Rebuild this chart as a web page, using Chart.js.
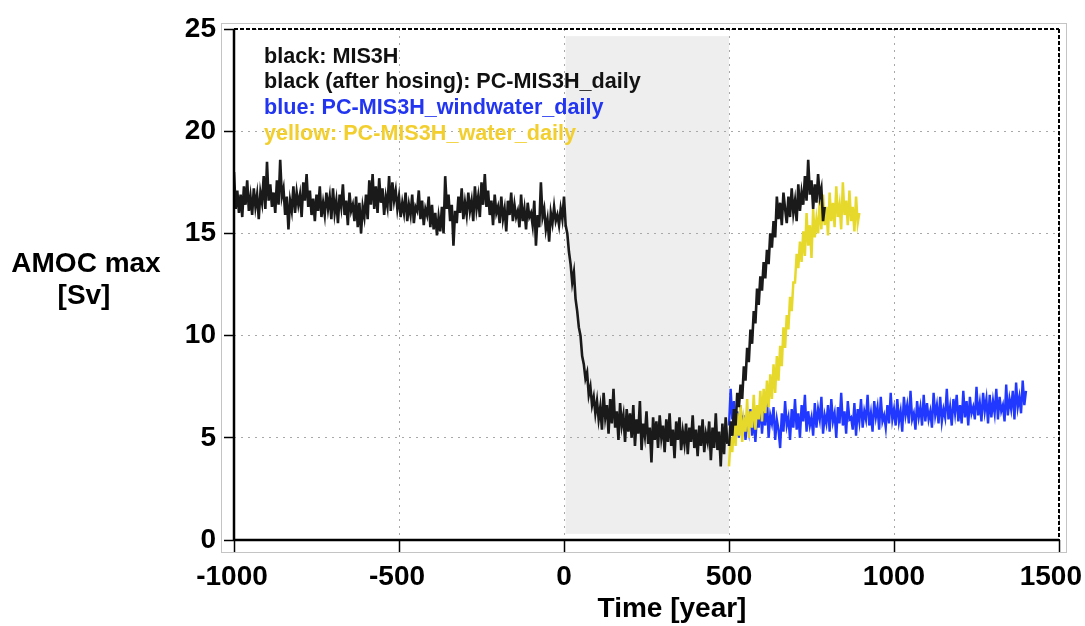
<!DOCTYPE html>
<html>
<head>
<meta charset="utf-8">
<script src="https://cdn.jsdelivr.net/npm/chart.js@4/dist/chart.umd.min.js"></script>
<style>
html,body{margin:0;padding:0;background:#fff;}
#wrap{width:1085px;height:626px;position:relative;}
</style>
</head>
<body>
<div id="wrap"><canvas id="c" width="1085" height="626"></canvas></div>
<script>
// ---- data (5-year sampling) ----
const STEP = 5;
const mis3hStart = -1000;
const mis3h = [
18.0,16.2,17.1,16.0,16.9,15.8,17.3,16.4,17.6,16.1,16.8,15.9,17.2,16.3,16.9,15.7,17.0,16.5,17.8,16.2,
18.5,16.6,17.4,16.3,17.0,16.0,17.6,16.4,18.6,16.8,17.2,15.9,16.8,15.2,16.6,16.1,17.3,16.0,17.0,16.4,
16.9,15.8,17.5,16.6,17.9,16.3,17.1,15.9,16.7,15.6,16.9,16.1,17.3,15.8,16.5,15.9,17.0,16.2,16.8,15.7,
17.2,16.0,16.6,15.5,16.9,16.3,17.4,15.9,16.6,15.4,17.0,16.1,16.4,15.6,16.8,15.3,16.5,15.0,16.3,15.8,
16.9,15.7,17.6,16.4,17.9,16.2,17.3,16.0,17.7,16.5,17.2,15.9,16.8,16.3,17.8,16.1,17.5,16.6,17.1,16.2,
16.8,15.8,16.5,16.0,17.0,15.6,16.4,15.9,16.9,15.5,16.3,16.1,17.1,15.7,16.6,15.4,16.2,15.9,16.8,15.3,
16.4,15.2,16.0,14.9,15.8,15.1,16.3,15.0,17.8,16.2,16.9,15.6,16.4,14.4,16.1,15.5,16.8,16.0,17.2,15.7,
16.5,15.9,17.0,16.1,16.6,15.6,17.3,16.2,16.8,15.8,17.5,16.4,17.9,16.3,17.1,15.9,16.6,15.4,16.9,16.0,
16.3,15.5,16.8,15.7,16.2,15.1,16.6,15.9,17.0,15.6,16.4,15.8,16.1,15.3,16.9,15.6,16.2,15.2,16.5,15.8,
16.0,15.4,16.6,14.4,15.9,15.3,17.5,15.8,16.2,15.2,15.7,14.6,16.0,15.5,16.3,15.6,15.9,15.4,16.2,15.7,
16.8,15.4,15.0,14.1,13.5,12.6,13.1,11.8,11.2,10.4,10.0,9.0,8.6,7.9,8.2,7.1,7.5,6.6,7.0,6.2,
6.8,5.9,6.5,5.4,7.2,6.0,6.6,5.2,6.9,5.7,7.4,5.5,6.3,4.9,6.7,5.6,6.1,4.8,6.4,5.3,
6.2,5.0,6.6,4.6,5.9,5.2,6.8,4.4,5.7,5.1,6.3,4.7,5.5,3.8,6.0,4.9,5.8,4.5,6.1,5.0,
5.6,4.3,5.9,4.8,6.2,4.6,5.4,4.0,5.8,4.9,6.0,4.4,5.3,4.7,5.7,4.2,5.5,4.8,6.1,4.5,
5.4,4.1,5.6,4.6,5.9,4.3,5.2,4.8,5.8,3.9,5.5,4.5,6.2,4.4,5.3,3.6,5.7,4.2,6.0,4.7
];
const pcDailyStart = 500;
const pcDaily = [
4.6,5.8,5.1,6.4,5.6,7.2,6.5,7.6,6.9,8.5,7.8,9.4,8.7,10.3,9.6,11.2,10.6,12.3,11.5,12.9,
12.2,13.6,12.8,14.2,13.5,15.0,14.3,15.6,14.8,16.8,15.7,16.5,15.4,17.0,16.2,15.5,16.8,15.8,17.2,16.0,
16.6,15.6,17.4,16.1,17.0,16.4,17.8,16.6,18.6,16.9,17.6,16.2,17.4,16.5,17.9,16.8,17.2,15.6,16.3
];
const windwaterStart = 500;
const windwater = [
5.6,7.4,5.9,6.8,5.2,6.3,5.0,6.6,5.4,6.1,4.9,5.8,5.3,6.4,5.1,6.0,4.8,6.2,5.5,6.7,
5.2,6.3,5.6,7.0,5.0,6.1,5.7,6.5,4.9,5.9,5.4,4.5,6.2,5.3,6.8,5.6,6.0,4.9,6.4,5.5,
6.9,5.4,6.2,5.0,6.6,5.8,7.1,5.3,6.3,5.6,6.0,5.1,6.7,5.5,6.4,5.9,7.0,5.2,6.1,5.7,
6.6,5.3,6.9,5.8,6.2,5.0,6.5,5.7,7.2,5.6,6.3,5.2,6.8,5.9,6.0,5.4,6.7,5.1,6.4,5.8,
6.9,5.5,6.3,5.9,7.1,5.6,6.2,5.3,6.8,6.0,6.5,5.4,7.0,5.8,6.1,5.5,6.6,5.7,7.2,5.9,
6.4,5.6,6.9,5.8,6.3,5.3,7.0,6.1,6.6,5.7,7.3,5.9,6.2,5.4,6.8,6.0,6.5,5.6,7.1,5.8,
6.7,5.9,6.3,5.5,7.2,6.1,6.6,5.7,7.0,5.8,6.4,6.0,7.4,5.9,6.5,5.6,6.9,6.2,7.1,5.8,
6.6,5.7,7.3,6.0,6.8,5.6,7.0,6.2,6.5,5.9,7.5,6.1,6.7,5.8,7.2,6.3,6.9,5.7,7.1,6.0,
6.8,6.2,7.4,5.9,7.0,6.3,6.6,5.8,7.6,6.1,6.9,6.4,7.3,5.9,7.7,6.5,7.0,6.2,7.8,6.6,
7.3
];
const waterStart = 500;
const water = [
3.6,5.0,4.3,5.8,4.6,6.2,5.1,6.6,4.8,5.9,5.3,6.9,5.0,6.3,5.5,7.1,5.4,6.6,5.9,7.3,
5.8,7.4,6.2,7.8,6.5,8.1,6.9,8.6,7.2,9.0,7.8,9.5,8.5,10.4,9.4,11.0,10.3,11.9,11.2,12.6,
12.6,14.0,13.3,14.6,13.6,15.1,13.9,16.0,14.4,15.4,13.8,16.2,14.8,15.7,15.0,16.6,15.2,16.9,15.4,16.3,
14.9,17.0,15.6,16.5,15.3,17.3,15.8,16.4,15.2,17.5,15.9,16.6,15.4,17.1,15.6,16.3,15.1,16.8,15.5,16.0
];
const xTicks = [-1000, -500, 0, 500, 1000, 1500];
const yTicks = [0, 5, 10, 15, 20, 25];
const hosingPeriod = [5, 500];
const legendLines = [
  "black: MIS3H",
  "black (after hosing): PC-MIS3H_daily",
  "blue: PC-MIS3H_windwater_daily",
  "yellow: PC-MIS3H_water_daily"
];
const yTitle = ["AMOC max", "[Sv]"];
const xTitle = "Time [year]";

// ---- build points ----
function pts(start, arr){ return arr.map((v,i)=>({x:start+i*STEP, y:v})); }

const FONT = "'Liberation Sans', Arial, Helvetica, sans-serif";
const BLACK = '#1a1a1a', BLUE = '#2038ff', YELLOW = '#e6d92c';
const legendColors = ['#111111', '#111111', '#2236f2', '#f2cf2e'];

const decor = {
  id: 'decor',
  beforeDraw(chart){
    const {ctx, chartArea:a, scales:{x,y}} = chart;
    ctx.save();
    ctx.strokeStyle = '#c4c4c4';
    ctx.lineWidth = 1;
    ctx.strokeRect(a.left-12.5, a.top-5.5, (a.right-a.left)+20, (a.bottom-a.top)+18);
    ctx.fillStyle = '#eeeeee';
    const x0 = x.getPixelForValue(hosingPeriod[0]), x1 = x.getPixelForValue(hosingPeriod[1]);
    const y0 = y.getPixelForValue(24.65), y1 = y.getPixelForValue(0.3);
    ctx.fillRect(x0, y0, x1-x0, y1-y0);
    ctx.restore();
  },
  afterDraw(chart){
    const {ctx, chartArea:a, scales:{x}} = chart;
    ctx.save();
    ctx.strokeStyle = '#000';
    ctx.lineWidth = 2.5;
    ctx.setLineDash([]);
    ctx.beginPath(); ctx.moveTo(a.left, a.top); ctx.lineTo(a.left, a.bottom+1); ctx.stroke();
    ctx.beginPath(); ctx.moveTo(a.left, a.bottom); ctx.lineTo(a.right, a.bottom); ctx.stroke();
    ctx.lineWidth = 2;
    ctx.setLineDash([4,2]);
    ctx.beginPath(); ctx.moveTo(a.left, a.top); ctx.lineTo(a.right, a.top); ctx.stroke();
    ctx.beginPath(); ctx.moveTo(a.right, a.top); ctx.lineTo(a.right, a.bottom); ctx.stroke();
    ctx.setLineDash([]);
    // legend text
    ctx.font = "bold 21.6px " + FONT;
    ctx.textAlign = 'left';
    ctx.textBaseline = 'alphabetic';
    const base = [63, 88, 114, 140];
    legendLines.forEach((t,i)=>{ ctx.fillStyle = legendColors[i]; ctx.fillText(t, a.left+30, base[i]); });
    // x tick labels (kept inside the canvas like the reference)
    ctx.fillStyle = '#000';
    ctx.font = "bold 28px " + FONT;
    ctx.textAlign = 'center';
    ctx.textBaseline = 'middle';
    xTicks.forEach(v=>{
      const s = String(v);
      const w = ctx.measureText(s).width;
      let cx = x.getPixelForValue(v);
      if (v < 0) cx -= 2;
      if (cx + w/2 > chart.width - 3) cx = chart.width - 3 - w/2;
      ctx.fillText(s, cx, 577);
    });
    // axis titles
    ctx.fillText(yTitle[0], 86, 264);
    ctx.fillText(yTitle[1], 84, 296);
    ctx.fillText(xTitle, 672, 609);
    ctx.restore();
  }
};

const gridCommon = {
  color: '#a8a8a8',
  lineWidth: 1,
  tickColor: '#000',
  tickWidth: 1.5,
  tickBorderDash: [],
  drawOnChartArea: true
};
const borderCommon = {display:false, dash:[2,5]};

new Chart(document.getElementById('c'), {
  type: 'line',
  data: {
    datasets: [
      {label:'MIS3H', data: pts(mis3hStart, mis3h), borderColor: BLACK, borderWidth: 2.6},
      {label:'PC-MIS3H_daily', data: pts(pcDailyStart, pcDaily), borderColor: BLACK, borderWidth: 2.6},
      {label:'PC-MIS3H_water_daily', data: pts(waterStart, water), borderColor: YELLOW, borderWidth: 2.5},
      {label:'PC-MIS3H_windwater_daily', data: pts(windwaterStart, windwater), borderColor: BLUE, borderWidth: 2.4}
    ].map(d=>Object.assign(d,{pointRadius:0, tension:0, fill:false}))
  },
  options: {
    responsive: false,
    animation: false,
    events: [],
    layout: {padding: {left:0, right:26, top:29, bottom:0}},
    plugins: {legend:{display:false}, tooltip:{enabled:false}},
    scales: {
      x: {
        type: 'linear', min: -1000, max: 1500,
        afterBuildTicks(s){ s.ticks = xTicks.map(v=>({value:v})); },
        afterFit(s){ s.height = 86; s.paddingLeft = 0; s.paddingRight = 0; },
        grid: Object.assign({}, gridCommon, {tickLength: 12}),
        border: borderCommon,
        ticks: {display:false}
      },
      y: {
        type: 'linear', min: 0, max: 25,
        afterBuildTicks(s){ s.ticks = yTicks.map(v=>({value:v})); },
        afterFit(s){ s.width = 234; s.paddingTop = 0; s.paddingBottom = 0; },
        grid: Object.assign({}, gridCommon, {tickLength: 10}),
        border: borderCommon,
        ticks: {color:'#000', font:{family:FONT, size:28, weight:'bold'}, padding: 8, callback: v => String(v)}
      }
    }
  },
  plugins: [decor]
});
</script>
</body>
</html>
